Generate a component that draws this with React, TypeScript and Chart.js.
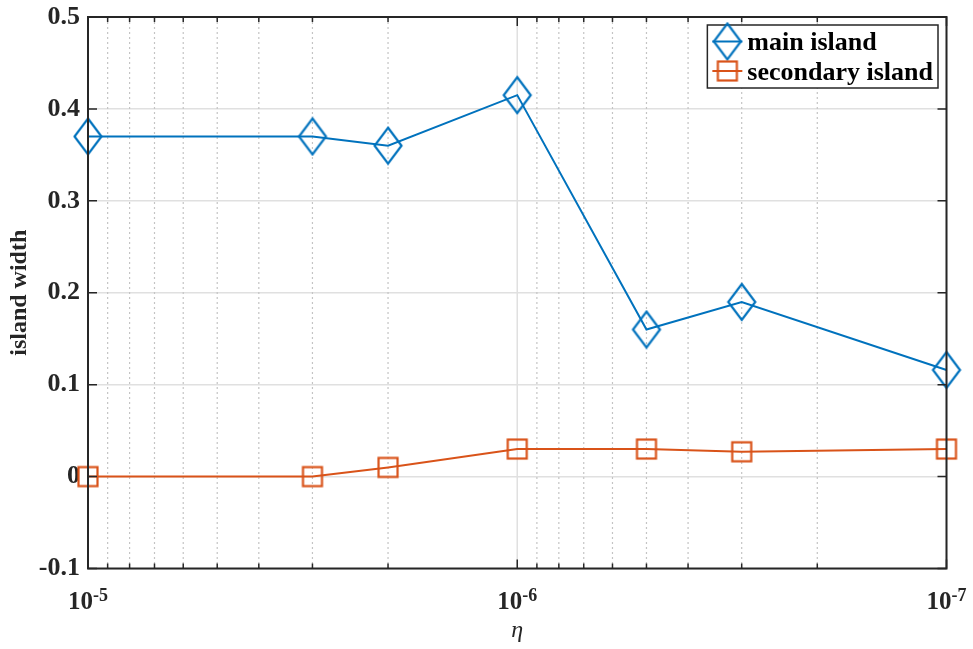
import React, { useEffect, useRef } from "react";
import { Chart, registerables } from "chart.js";

Chart.register(...registerables);

// ---- data ----
const etaValues = [1e-5, 3e-6, 2e-6, 1e-6, 5e-7, 3e-7, 1e-7];
const mainIsland = [0.37, 0.37, 0.36, 0.415, 0.16, 0.19, 0.116];
const secondaryIsland = [0, 0, 0.01, 0.03, 0.03, 0.027, 0.03];
const seriesLabels = ["main island", "secondary island"];
const xMajorTicks = [1e-5, 1e-6, 1e-7];
const xTickBase = "10";
const xTickExponents = ["-5", "-6", "-7"];
const minorMultipliers = [2, 3, 4, 5, 6, 7, 8, 9];
const yMin = -0.1;
const yMax = 0.5;
const yStep = 0.1;
const xTitle = "η";
const yTitle = "island width";

const BLUE = "#0072BD";
const ORANGE = "#D95319";
const AXIS = "#262626";
const FONT = "'Liberation Serif', 'Times New Roman', serif";

function makeDiamond(color: string) {
  const c = document.createElement("canvas");
  c.width = 32;
  c.height = 40;
  const g = c.getContext("2d")!;
  g.strokeStyle = color;
  g.lineWidth = 2.2;
  g.beginPath();
  g.moveTo(16, 2);
  g.lineTo(29.5, 20);
  g.lineTo(16, 38);
  g.lineTo(2.5, 20);
  g.closePath();
  g.stroke();
  return c;
}

function makeSquare(color: string) {
  const c = document.createElement("canvas");
  c.width = 24;
  c.height = 24;
  const g = c.getContext("2d")!;
  g.strokeStyle = color;
  g.lineWidth = 2.2;
  g.strokeRect(2.5, 2.5, 19, 19);
  return c;
}

export default function App() {
  const ref = useRef<HTMLCanvasElement | null>(null);

  useEffect(() => {
    document.body.style.margin = "0";
    const canvas = ref.current;
    if (!canvas) return;
    const diamond = makeDiamond(BLUE);
    const square = makeSquare(ORANGE);
    const markers = [diamond, square];
    const colors = [BLUE, ORANGE];

    const framePlugin = {
      id: "matlabFrame",
      beforeDatasetsDraw(chart: any) {
        const { ctx, chartArea: a, scales } = chart;
        const x = scales.x;
        ctx.save();
        // minor dotted grid
        ctx.strokeStyle = "#c4c4c4";
        ctx.lineWidth = 1.2;
        ctx.setLineDash([2, 3]);
        for (let i = 1; i < xMajorTicks.length; i++) {
          const dec = xMajorTicks[i];
          for (const m of minorMultipliers) {
            const px = x.getPixelForValue(m * dec);
            ctx.beginPath();
            ctx.moveTo(px, a.top);
            ctx.lineTo(px, a.bottom);
            ctx.stroke();
          }
        }
        ctx.setLineDash([]);
        // major x grid
        ctx.strokeStyle = "#e0e0e0";
        ctx.lineWidth = 1.5;
        for (const v of xMajorTicks) {
          const px = x.getPixelForValue(v);
          ctx.beginPath();
          ctx.moveTo(px, a.top);
          ctx.lineTo(px, a.bottom);
          ctx.stroke();
        }
        ctx.restore();
      },
      afterDatasetsDraw(chart: any) {
        const { ctx, chartArea: a, scales } = chart;
        const x = scales.x;
        const y = scales.y;
        ctx.save();
        // box
        ctx.strokeStyle = AXIS;
        ctx.lineWidth = 2;
        ctx.strokeRect(a.left, a.top, a.right - a.left, a.bottom - a.top);
        // x ticks (inward, top & bottom)
        ctx.lineWidth = 1.5;
        const drawXTick = (px: number, len: number) => {
          ctx.beginPath();
          ctx.moveTo(px, a.bottom);
          ctx.lineTo(px, a.bottom - len);
          ctx.moveTo(px, a.top);
          ctx.lineTo(px, a.top + len);
          ctx.stroke();
        };
        for (const v of xMajorTicks) drawXTick(x.getPixelForValue(v), 9);
        for (let i = 1; i < xMajorTicks.length; i++) {
          for (const m of minorMultipliers) drawXTick(x.getPixelForValue(m * xMajorTicks[i]), 5);
        }
        // y ticks (inward, left & right)
        for (const t of y.ticks) {
          const py = y.getPixelForValue(t.value);
          ctx.beginPath();
          ctx.moveTo(a.left, py);
          ctx.lineTo(a.left + 9, py);
          ctx.moveTo(a.right, py);
          ctx.lineTo(a.right - 9, py);
          ctx.stroke();
        }
        // x tick labels with superscripts
        ctx.fillStyle = AXIS;
        ctx.textBaseline = "alphabetic";
        ctx.textAlign = "left";
        const baseFont = `bold 25px ${FONT}`;
        const supFont = `bold 18px ${FONT}`;
        xMajorTicks.forEach((v, i) => {
          const px = x.getPixelForValue(v);
          ctx.font = baseFont;
          const wb = ctx.measureText(xTickBase).width;
          ctx.font = supFont;
          const ws = ctx.measureText(xTickExponents[i]).width;
          const start = px - (wb + ws) / 2;
          ctx.font = baseFont;
          ctx.fillText(xTickBase, start, a.bottom + 40);
          ctx.font = supFont;
          ctx.fillText(xTickExponents[i], start + wb, a.bottom + 32);
        });
        // legend
        ctx.font = `bold 26px ${FONT}`;
        const textW = Math.max(...seriesLabels.map((s) => ctx.measureText(s).width));
        const boxRight = a.right - 8.5;
        const boxTop = a.top + 8;
        const sampleW = 30;
        const boxW = 5 + sampleW + 5 + textW + 5;
        const boxLeft = boxRight - boxW;
        const boxH = 63;
        ctx.fillStyle = "#ffffff";
        ctx.fillRect(boxLeft, boxTop, boxW, boxH);
        ctx.strokeStyle = AXIS;
        ctx.lineWidth = 1.5;
        ctx.strokeRect(boxLeft, boxTop, boxW, boxH);
        const rowsY = [boxTop + 16.5, boxTop + 46];
        seriesLabels.forEach((label, i) => {
          const cy = rowsY[i];
          const x0 = boxLeft + 5;
          ctx.strokeStyle = colors[i];
          ctx.lineWidth = 2;
          ctx.beginPath();
          ctx.moveTo(x0, cy);
          ctx.lineTo(x0 + sampleW, cy);
          ctx.stroke();
          const mk = markers[i];
          ctx.drawImage(mk, x0 + sampleW / 2 - mk.width / 2, cy - mk.height / 2);
          ctx.fillStyle = "#000000";
          ctx.fillText(label, x0 + sampleW + 5, cy + 8.5);
        });
        ctx.restore();
      },
    };

    const chart = new Chart(canvas, {
      type: "line",
      data: {
        datasets: [
          {
            label: seriesLabels[0],
            data: etaValues.map((v, i) => ({ x: v, y: mainIsland[i] })),
            borderColor: BLUE,
            backgroundColor: BLUE,
            borderWidth: 2,
            pointStyle: diamond as any,
            pointRadius: 14,
            clip: false as any,
            tension: 0,
          },
          {
            label: seriesLabels[1],
            data: etaValues.map((v, i) => ({ x: v, y: secondaryIsland[i] })),
            borderColor: ORANGE,
            backgroundColor: ORANGE,
            borderWidth: 2,
            pointStyle: square as any,
            pointRadius: 11,
            clip: false as any,
            tension: 0,
          },
        ],
      },
      options: {
        animation: false,
        responsive: false,
        maintainAspectRatio: false,
        layout: { padding: { top: 17, right: 26.5, left: 0, bottom: 0 } },
        plugins: { legend: { display: false }, tooltip: { enabled: false } },
        scales: {
          x: {
            type: "logarithmic",
            reverse: true,
            min: xMajorTicks[xMajorTicks.length - 1],
            max: xMajorTicks[0],
            grid: { display: false },
            border: { display: false },
            ticks: { display: false },
            title: {
              display: true,
              text: xTitle,
              color: AXIS,
              font: { family: FONT, size: 24, style: "italic" },
              padding: { top: 0, bottom: 4 },
            },
            afterFit: (s: any) => {
              s.height = 80.5;
              s.paddingLeft = 0;
              s.paddingRight = 0;
            },
          },
          y: {
            type: "linear",
            min: yMin,
            max: yMax,
            ticks: {
              stepSize: yStep,
              color: AXIS,
              padding: 8,
              font: { family: FONT, size: 26, weight: "bold" },
              callback: (v: any) => String(Math.round(Number(v) * 10) / 10),
            },
            grid: { color: "#e0e0e0", lineWidth: 1.5, drawTicks: false },
            border: { display: false },
            title: {
              display: true,
              text: yTitle,
              color: AXIS,
              font: { family: FONT, size: 24, weight: "bold" },
              padding: { top: 5, bottom: 0 },
            },
            afterFit: (s: any) => {
              s.width = 88;
              s.paddingTop = 0;
              s.paddingBottom = 0;
            },
          },
        },
      } as any,
      plugins: [framePlugin],
    });
    return () => chart.destroy();
  }, []);

  return (
    <div style={{ width: 973, height: 649, background: "#ffffff" }}>
      <canvas ref={ref} width={973} height={649} />
    </div>
  );
}
